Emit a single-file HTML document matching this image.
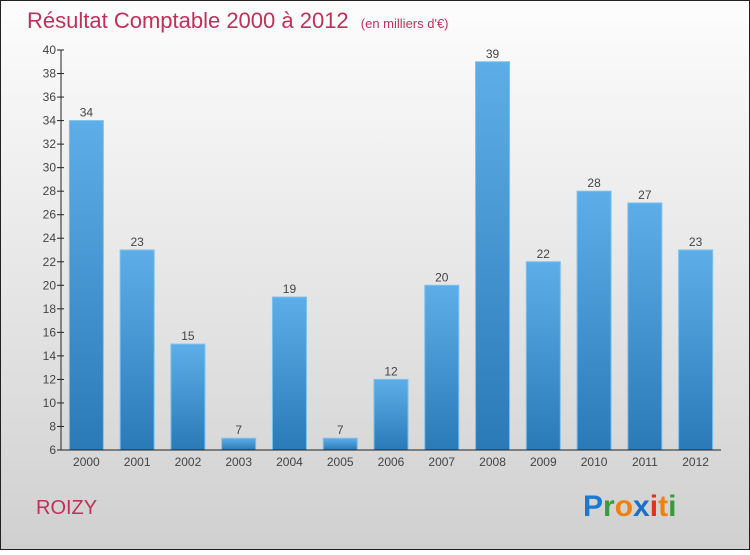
<!DOCTYPE html>
<html><head><meta charset="utf-8"><style>
body{margin:0;width:750px;height:550px;overflow:hidden;font-family:"Liberation Sans",sans-serif}
</style></head><body>
<svg width="750" height="550" xmlns="http://www.w3.org/2000/svg">
<defs>
<linearGradient id="bg" x1="0" y1="0" x2="0" y2="1"><stop offset="0" stop-color="#fdfdfd"/><stop offset="1" stop-color="#d0d0d0"/></linearGradient>
<linearGradient id="bar" x1="0" y1="0" x2="0" y2="1"><stop offset="0" stop-color="#5daee8"/><stop offset="1" stop-color="#2a7ab8"/></linearGradient>
</defs>
<rect x="0.5" y="0.5" width="749" height="549" fill="url(#bg)" stroke="#222"/>
<text x="27" y="28" font-size="22" fill="#c0305a">Résultat Comptable 2000 à 2012 <tspan font-size="13" dx="6">(en milliers d'€)</tspan></text>
<g id="plot"></g>
<text x="36" y="514" font-size="20" fill="#c0305a">ROIZY</text>
<g font-size="30" font-weight="bold" font-family="'Liberation Sans',sans-serif">
<text x="583" y="516"><tspan fill="#1a7ad0">P</tspan><tspan fill="#3a9a3a">r</tspan><tspan fill="#f08010">o</tspan><tspan fill="#1a70c8">x</tspan><tspan fill="#e03020">i</tspan><tspan fill="#f08010">t</tspan><tspan fill="#3a9a3a">i</tspan></text>
</g>
</svg>
<script>
const years=["2000","2001","2002","2003","2004","2005","2006","2007","2008","2009","2010","2011","2012"];
const values=[34,23,15,7,19,7,12,20,39,22,28,27,23];
const yTicks=[6,8,10,12,14,16,18,20,22,24,26,28,30,32,34,36,38,40];
{
const NS="http://www.w3.org/2000/svg";
const g=document.getElementById('plot');
const yMin=6,yMax=40,pTop=50,pBot=450,pLeft=61,pRight=721;
const ys=v=>pBot-(v-yMin)/(yMax-yMin)*(pBot-pTop);
const step=(pRight-pLeft)/years.length;
const xc=i=>pLeft+step*(i+0.5);
function mk(t,a){const e=document.createElementNS(NS,t);for(const k in a)e.setAttribute(k,a[k]);g.appendChild(e);return e;}
yTicks.forEach(v=>{
 const l=mk('line',{x1:pLeft-4,x2:pLeft+3,y1:ys(v),y2:ys(v),stroke:'#222'});
 
 
 const t=mk('text',{x:pLeft-5,y:ys(v)+4,'text-anchor':'end','font-size':12,fill:'#444'});
 t.textContent=v;
 
 
});
values.forEach((v,i)=>{
 const r=mk('rect',{x:xc(i)-17,y:ys(v),width:34,height:pBot-ys(v),fill:'url(#bar)',stroke:'#7cc0ee','stroke-width':1});
 
 
 const t=mk('text',{x:xc(i),y:ys(v)-4,'text-anchor':'middle','font-size':12,fill:'#444'});
 t.textContent=v;
 
 
 const xl=mk('text',{x:xc(i),y:pBot+16,'text-anchor':'middle','font-size':12,fill:'#444'});
 xl.textContent=years[i];
 
 
});
const ya=mk('line',{x1:pLeft,x2:pLeft,y1:pTop,y2:pBot,stroke:'#222'});


const xa=mk('line',{x1:pLeft,x2:pRight,y1:pBot,y2:pBot,stroke:'#222'});


}
</script>
</body></html>
